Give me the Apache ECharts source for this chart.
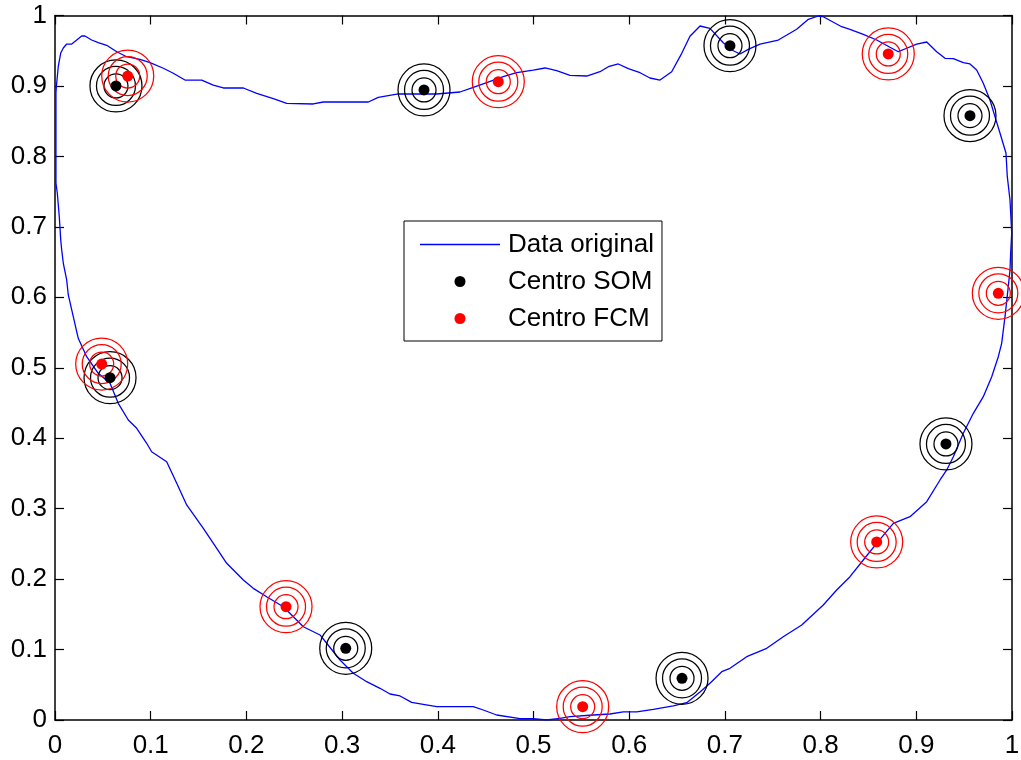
<!DOCTYPE html>
<html>
<head>
<meta charset="utf-8">
<script src="https://cdn.jsdelivr.net/npm/echarts@6/dist/echarts.min.js"></script>
<style>
  html, body { margin: 0; padding: 0; background: #ffffff; }
  #chart { width: 1021px; height: 760px; }
</style>
</head>
<body>
<div id="chart"></div>
<script>
// ---- Data ----
const curveX = [0.0024,0.0010,0.0010,0.0010,0.0014,0.0034,0.0060,0.0087,0.0122,0.0175,0.0227,0.0279,0.0313,0.0383,0.0452,0.0540,0.0645,0.0749,0.0888,0.0993,
  0.1132,0.1236,0.1358,0.1533,0.1654,0.1759,0.1968,0.2108,0.2281,0.2421,0.2699,0.2804,0.3274,0.3378,0.3587,0.3988,0.4232,0.4371,0.4511,0.4684,
  0.4824,0.4998,0.5120,0.5242,0.5381,0.5556,0.5695,0.5782,0.5886,0.5991,0.6113,0.6217,0.6322,0.6444,0.6549,0.6635,0.6740,0.6844,0.6983,0.7088,
  0.7158,0.7244,0.7367,0.7558,0.7750,0.7872,0.7976,0.8028,0.8220,0.8307,0.8446,0.8586,0.8725,0.8812,0.8900,0.9004,0.9109,0.9213,0.9300,0.9387,
  0.9491,0.9561,0.9631,0.9700,0.9770,0.9822,0.9875,0.9937,0.9951,0.9979,0.9997,0.9986,0.9979,0.9961,0.9927,0.9892,0.9857,0.9788,0.9700,0.9596,
  0.9491,0.9387,0.9318,0.9248,0.9109,0.8934,0.8760,0.8586,0.8446,0.8307,0.8168,0.8028,0.7803,0.7610,0.7437,0.7228,0.7053,0.6967,0.6844,0.6740,
  0.6601,0.6461,0.6252,0.6078,0.5938,0.5799,0.5625,0.5381,0.5277,0.5138,0.4998,0.4859,0.4615,0.4475,0.4371,0.3988,0.3848,0.3727,0.3605,0.3501,
  0.3396,0.3257,0.3117,0.2978,0.2839,0.2769,0.2595,0.2386,0.2212,0.2072,0.1968,0.1794,0.1690,0.1550,0.1376,0.1272,0.1167,0.1010,0.0958,0.0854,
  0.0766,0.0661,0.0575,0.0452,0.0331,0.0243,0.0191,0.0139,0.0122,0.0087,0.0070,0.0060,0.0045,0.0024];
const curveY = [0.7480,0.7622,0.8233,0.8900,0.8989,0.9273,0.9468,0.9539,0.9595,0.9595,0.9652,0.9709,0.9709,0.9652,0.9614,0.9577,0.9486,0.9415,0.9378,0.9330,
  0.9251,0.9180,0.9084,0.9084,0.9013,0.8971,0.8971,0.8896,0.8819,0.8754,0.8744,0.8772,0.8772,0.8839,0.8886,0.8886,0.8914,0.8981,0.9046,0.9131,
  0.9188,0.9226,0.9255,0.9217,0.9151,0.9141,0.9202,0.9273,0.9312,0.9245,0.9188,0.9113,0.9084,0.9202,0.9463,0.9705,0.9851,0.9818,0.9614,0.9500,
  0.9454,0.9520,0.9595,0.9652,0.9804,0.9946,0.9993,0.9983,0.9841,0.9804,0.9733,0.9652,0.9549,0.9486,0.9535,0.9595,0.9624,0.9486,0.9392,0.9387,
  0.9330,0.9312,0.9226,0.9038,0.8801,0.8564,0.8328,0.8048,0.7712,0.7381,0.6913,0.6629,0.6388,0.6151,0.5725,0.5347,0.5157,0.4873,0.4589,0.4353,
  0.4070,0.3737,0.3549,0.3407,0.3099,0.2886,0.2792,0.2508,0.2271,0.2034,0.1845,0.1632,0.1348,0.1182,0.1018,0.0899,0.0734,0.0686,0.0521,0.0397,
  0.0246,0.0199,0.0152,0.0114,0.0114,0.0085,0.0071,0.0047,0.0024,0.0000,0.0018,0.0018,0.0071,0.0142,0.0189,0.0189,0.0223,0.0251,0.0341,0.0369,
  0.0450,0.0544,0.0664,0.0852,0.1089,0.1207,0.1324,0.1608,0.1750,0.1869,0.1987,0.2224,0.2437,0.2721,0.3052,0.3360,0.3666,0.3808,0.3928,0.4141,
  0.4258,0.4495,0.4779,0.4921,0.5157,0.5418,0.5725,0.6033,0.6246,0.6483,0.6671,0.6813,0.7140,0.7480];

const somX = [0.0637, 0.3856, 0.7053, 0.9561, 0.9310, 0.6552, 0.3038, 0.0575];
const somY = [0.9000, 0.8943, 0.9571, 0.8578, 0.3918, 0.0592, 0.1018, 0.4859];
const fcmX = [0.0760, 0.4632, 0.8707, 0.9857, 0.8586, 0.5514, 0.2414, 0.0488];
const fcmY = [0.9141, 0.9060, 0.9454, 0.6057, 0.2527, 0.0189, 0.1608, 0.5053];

const xTickLabels = ['0','0.1','0.2','0.3','0.4','0.5','0.6','0.7','0.8','0.9','1'];
const yTickLabels = ['0','0.1','0.2','0.3','0.4','0.5','0.6','0.7','0.8','0.9','1'];
const seriesNames = ['Data original', 'Centro SOM', 'Centro FCM'];

// ---- Build ----
const FONT = "'Liberation Sans', Arial, Helvetica, sans-serif";
const zip = (xs, ys) => xs.map((x, i) => [x, ys[i]]);
const curve = zip(curveX, curveY);
const som = zip(somX, somY);
const fcm = zip(fcmX, fcmY);

function tickFmt(labels) {
  return function (v) {
    const i = Math.round(v * 10);
    return labels[i] !== undefined ? labels[i] : '';
  };
}

function rings(name, data, color) {
  return [24, 39, 52].map((s, k) => ({
    name: name + '_ring' + k,
    type: 'scatter',
    data: data,
    symbol: 'circle',
    symbolSize: s,
    itemStyle: { color: 'rgba(0,0,0,0)', borderColor: color, borderWidth: 1.25, opacity: 1 },
    emphasis: { disabled: true },
    silent: true,
    z: 3
  }));
}

const axisLine = { show: true, onZero: false, lineStyle: { color: '#000', width: 1.5 } };
const tickIn = { show: true, inside: true, length: 9, lineStyle: { color: '#000', width: 1.2 } };
const labelStyle = { color: '#000', fontSize: 26, fontFamily: FONT };

const option = {
  animation: false,
  backgroundColor: '#ffffff',
  grid: { left: 55, right: 9, top: 15.5, bottom: 40, containLabel: false, outerBoundsMode: 'none' },
  xAxis: [
    { type: 'value', position: 'bottom', min: 0, max: 1, interval: 0.1,
      axisLine: axisLine, axisTick: tickIn, splitLine: { show: false },
      axisLabel: Object.assign({ margin: 13, formatter: tickFmt(xTickLabels) }, labelStyle) },
    { type: 'value', position: 'top', min: 0, max: 1, interval: 0.1,
      axisLine: axisLine, axisTick: tickIn, splitLine: { show: false },
      axisLabel: { show: false } }
  ],
  yAxis: [
    { type: 'value', position: 'left', min: 0, max: 1, interval: 0.1,
      axisLine: axisLine, axisTick: tickIn, splitLine: { show: false },
      axisLabel: Object.assign({ margin: 8, formatter: tickFmt(yTickLabels) }, labelStyle) },
    { type: 'value', position: 'right', min: 0, max: 1, interval: 0.1,
      axisLine: axisLine, axisTick: tickIn, splitLine: { show: false },
      axisLabel: { show: false } }
  ],
  legend: {
    data: [
      { name: seriesNames[0], icon: 'path://M0,0 L80,0 L80,1.3 L0,1.3 Z' },
      { name: seriesNames[1], icon: 'circle' },
      { name: seriesNames[2], icon: 'circle' }
    ],
    orient: 'vertical',
    left: 404, top: 221,
    padding: [10, 8, 9, 16],
    itemGap: 10,
    itemWidth: 80, itemHeight: 11,
    borderColor: '#000', borderWidth: 1,
    backgroundColor: '#fff',
    selectedMode: false,
    textStyle: { color: '#000', fontSize: 26, fontFamily: FONT, lineHeight: 27, padding: [0, 0, 0, 3] },
    z: 10
  },
  series: [
    { name: seriesNames[0], type: 'line', data: curve, symbol: 'none', showSymbol: false,
      lineStyle: { color: '#0000ff', width: 1.3 }, itemStyle: { color: '#0000ff' },
      silent: true, z: 2 },
    ...rings('som', som, '#000000'),
    { name: seriesNames[1], type: 'scatter', data: som, symbol: 'circle', symbolSize: 11,
      itemStyle: { color: '#000000', opacity: 1 }, silent: true, z: 4 },
    ...rings('fcm', fcm, '#ff0000'),
    { name: seriesNames[2], type: 'scatter', data: fcm, symbol: 'circle', symbolSize: 11,
      itemStyle: { color: '#ff0000', opacity: 1 }, silent: true, z: 4 }
  ]
};

const chart = echarts.init(document.getElementById('chart'), null, { renderer: 'canvas' });
chart.setOption(option);
</script>
</body>
</html>
